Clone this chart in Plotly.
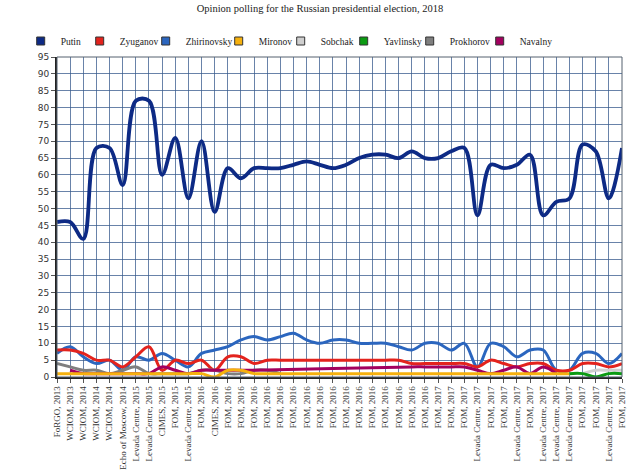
import plotly.graph_objects as go

categories = [
    "FoRGO, 2013", "WCIOM, 2013", "WCIOM, 2014", "WCIOM, 2014", "WCIOM, 2014",
    "Echo of Moscow, 2014", "Levada Centre, 2015", "Levada Centre, 2015", "CIMES, 2015",
    "FOM, 2015", "Levada Centre, 2015", "FOM, 2016", "CIMES, 2016",
    "FOM, 2016", "FOM, 2016", "FOM, 2016", "FOM, 2016", "FOM, 2016", "FOM, 2016",
    "FOM, 2016", "FOM, 2016", "FOM, 2016", "FOM, 2016", "FOM, 2016", "FOM, 2016",
    "FOM, 2016", "FOM, 2016", "FOM, 2016", "FOM, 2016",
    "FOM, 2017", "FOM, 2017", "FOM, 2017", "Levada Centre, 2017", "FOM, 2017", "FOM, 2017",
    "Levada Centre, 2017", "FOM, 2017", "Levada Centre, 2017", "Levada Centre, 2017",
    "Levada Centre, 2017", "FOM, 2017", "FOM, 2017", "Levada Centre, 2017", "FOM, 2017",
]

putin = [46, 46, 41, 68, 68, 57, 82, 82, 60, 71, 53, 70, 49, 62, 59, 62, 62, 62, 63, 64, 63, 62,
         63, 65, 66, 66, 65, 67, 65, 65, 67, 68, 48, 63, 62, 63, 66, 48, 52, 53, 69, 67, 53, 68]
zyuganov = [8, 8, 7, 5, 5, 3, 6, 9, 2, 5, 4, 5, 2, 6, 6, 4, 5, 5, 5, 5, 5, 5,
            5, 5, 5, 5, 5, 4, 4, 4, 4, 4, 3, 5, 4, 3, 4, 4, 2, 2, 4, 4, 3, 4]
zhirinovsky = [7, 9, 6, 4, 5, 2, 6, 5, 7, 5, 3, 7, 8, 9, 11, 12, 11, 12, 13, 11, 10, 11,
               11, 10, 10, 10, 9, 8, 10, 10, 8, 10, 3, 10, 9, 6, 8, 8, 2, 2, 7, 7, 4, 7]
mironov = [1, 1, 1, 1, 1, 1, 1, 1, 1, 1, 1, 1, 0, 2, 2, 1, 1, 1, 1, 1, 1, 1,
           1, 1, 1, 1, 1, 1, 1, 1, 1, 1, 1, 1, 1, 1, 1, 1, 1, 1, None, None, None, None]
sobchak = [None] * 40 + [1, 2, 2, 2]
yavlinsky = [None] * 39 + [1, 1, 0, 1, 1]
prokhorov = [4, 3, 2, 2, 1, 2, 3, 1, 1, 1, 1, 2, 2, 1, 1, 2, 2, 1] + [None] * 26
navalny = ([None, 2, 1, 1, 1, 1, 1, 1, 3, 2, 1, 2, 2, 2, 2, 2] + [None] * 11
           + [3, 3, 3, 3, 3, 2, 1, 2, 3, 1, 3, 1] + [None] * 5)

names = ["Putin", "Zyuganov", "Zhirinovsky", "Mironov", "Sobchak", "Yavlinsky", "Prokhorov", "Navalny"]
series = [putin, zyuganov, zhirinovsky, mironov, sobchak, yavlinsky, prokhorov, navalny]
colors = ["#0d2a85", "#e3231d", "#2b66bf", "#f6b10e", "#cfcfcf", "#0b9b12", "#7f7f7f", "#a3005f"]
widths = [3.8, 3, 3, 3, 3, 3, 3, 3]
legend_widths = [14, 21, 28, 17, 18, 21, 25, 30]
draw_order = [2, 1, 6, 7, 3, 4, 5, 0]

xs = list(range(len(categories)))
fig = go.Figure()

for i in draw_order:
    fig.add_trace(go.Scatter(
        x=xs, y=series[i], mode="lines", showlegend=False,
        line=dict(color=colors[i], width=widths[i], shape="spline", smoothing=1.0),
        connectgaps=True, hoverinfo="skip",
    ))

for i, nm in enumerate(names):
    fig.add_trace(go.Scatter(
        x=[None], y=[None], mode="markers", name=nm, showlegend=True, legendrank=i + 1,
        legendwidth=legend_widths[i],
        marker=dict(symbol="square", size=8, color=colors[i], line=dict(color="#333", width=1)),
    ))

serif = "Liberation Serif"
fig.update_layout(
    width=640, height=471,
    margin=dict(l=57, r=18, t=57, b=94, pad=0),
    paper_bgcolor="white", plot_bgcolor="white",
    title=dict(text="Opinion polling for the Russian presidential election, 2018",
               x=0.5, xanchor="center", y=1 - 8 / 471, yanchor="middle", yref="container",
               font=dict(family=serif, size=10.5, color="#222")),
    legend=dict(orientation="h", xref="container", yref="container",
                x=20.7 / 640, xanchor="left", y=1 - 41 / 471, yanchor="middle",
                font=dict(family=serif, size=9.5, color="#222"), itemwidth=30,
                tracegroupgap=0, bgcolor="rgba(0,0,0,0)", borderwidth=0),
    xaxis=dict(range=[0, len(categories) - 1], tickmode="array", tickvals=xs, ticktext=categories,
               tickangle=-90, tickfont=dict(family=serif, size=9, color="#333"),
               showgrid=True, gridcolor="rgba(55,90,140,0.75)", gridwidth=1,
               showline=True, linecolor="#222", linewidth=1.5, automargin=False,
               ticks="outside", ticklen=4, tickcolor="#555", zeroline=False),
    yaxis=dict(range=[0, 95], dtick=5, tick0=0, automargin=False,
               tickfont=dict(family="DejaVu Sans", size=9, color="#333"),
               showgrid=True, gridcolor="rgba(55,90,140,0.75)", gridwidth=1,
               showline=True, linecolor="#222", linewidth=2,
               ticks="outside", ticklen=4, tickcolor="#555", zeroline=False),
)

fig.add_shape(type="rect", xref="paper", yref="paper", x0=0, y0=0, x1=1, y1=1,
              line=dict(color="#55606e", width=1), fillcolor="rgba(0,0,0,0)", layer="above")

fig.write_html("out.html", config={"displayModeBar": False},
               post_script="document.body.style.margin='0px';")
